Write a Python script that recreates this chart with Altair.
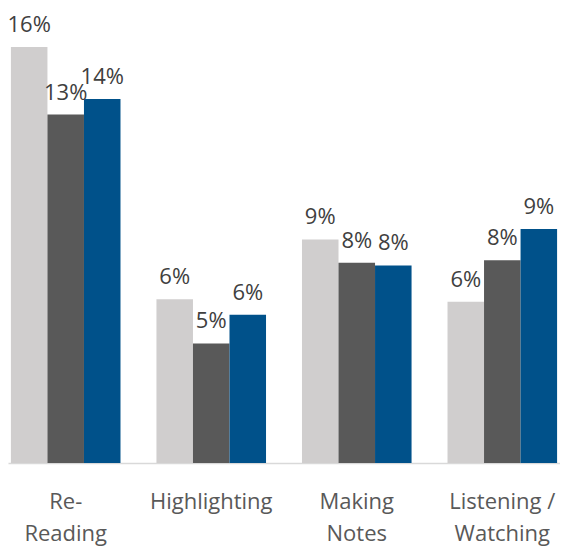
import altair as alt
import pandas as pd

categories = ["Re-\nReading", "Highlighting", "Making\nNotes", "Listening /\nWatching"]
series = ["A", "B", "C"]
series_a = [16.0, 6.3, 8.6, 6.2]
series_b = [13.4, 4.6, 7.7, 7.8]
series_c = [14.0, 5.7, 7.6, 9.0]
colors = ["#D0CECE", "#595959", "#00518A"]

rows = []
for vals, s in zip([series_a, series_b, series_c], series):
    for c, v in zip(categories, vals):
        rows.append({"category": c, "series": s, "value": v})
df = pd.DataFrame(rows)

base = alt.Chart(df).transform_calculate(
    label="format(datum.value, '.0f') + '%'"
).encode(
    x=alt.X("category:N", sort=categories,
            scale=alt.Scale(paddingInner=0.247, paddingOuter=0.02),
            axis=alt.Axis(title=None, labelAngle=0, ticks=False, labelPadding=28,
                          labelFontSize=22, labelFont="Open Sans", labelColor="#595959",
                          labelLineHeight=32, labelBaseline="top",
                          labelExpr="split(datum.label, '\\n')",
                          domainColor="#D9D9D9", domainWidth=1.5, grid=False)),
    xOffset=alt.XOffset("series:N", sort=series,
                        scale=alt.Scale(paddingInner=0, paddingOuter=0)),
    y=alt.Y("value:Q", scale=alt.Scale(domain=[0, 17.5], nice=False), axis=None),
)

bars = base.mark_bar().encode(
    color=alt.Color("series:N", sort=series,
                    scale=alt.Scale(domain=series, range=colors), legend=None)
)

text = base.mark_text(baseline="alphabetic", dy=-15, fontSize=22, font="Open Sans",
                      color="#404040").encode(text="label:N")

chart = (bars + text).properties(
    width=552, height=455,
    autosize=alt.AutoSizeParams(type="none"),
    padding={"left": 0, "top": 0, "right": 0, "bottom": 85}
).configure_view(stroke=None)

chart.save("out.html", embed_options={"renderer": "svg", "actions": False})
